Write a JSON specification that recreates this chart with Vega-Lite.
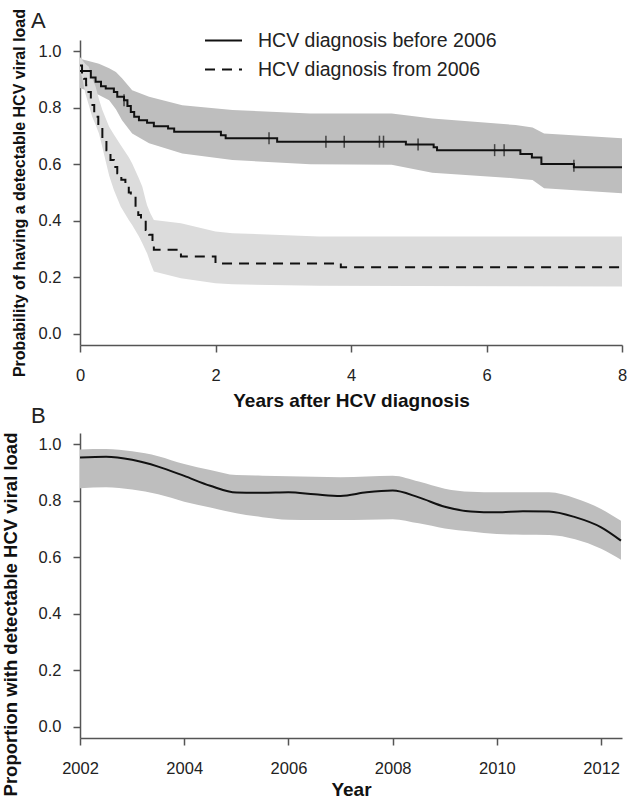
{
  "$schema": "https://vega.github.io/schema/vega-lite/v6.json",
  "padding": {"left": 1, "top": 8, "right": 5, "bottom": 0},
  "datasets": {
    "kmline": [
      {"group": "HCV diagnosis before 2006", "t": 0, "s": 0.93},
      {"group": "HCV diagnosis before 2006", "t": 0.16, "s": 0.907},
      {"group": "HCV diagnosis before 2006", "t": 0.23, "s": 0.892},
      {"group": "HCV diagnosis before 2006", "t": 0.31, "s": 0.876},
      {"group": "HCV diagnosis before 2006", "t": 0.38, "s": 0.868},
      {"group": "HCV diagnosis before 2006", "t": 0.5, "s": 0.856},
      {"group": "HCV diagnosis before 2006", "t": 0.55, "s": 0.839},
      {"group": "HCV diagnosis before 2006", "t": 0.65, "s": 0.827},
      {"group": "HCV diagnosis before 2006", "t": 0.7, "s": 0.806},
      {"group": "HCV diagnosis before 2006", "t": 0.75, "s": 0.785},
      {"group": "HCV diagnosis before 2006", "t": 0.8, "s": 0.768},
      {"group": "HCV diagnosis before 2006", "t": 0.87, "s": 0.756},
      {"group": "HCV diagnosis before 2006", "t": 0.99, "s": 0.747},
      {"group": "HCV diagnosis before 2006", "t": 1.09, "s": 0.735},
      {"group": "HCV diagnosis before 2006", "t": 1.3, "s": 0.727},
      {"group": "HCV diagnosis before 2006", "t": 1.39, "s": 0.715},
      {"group": "HCV diagnosis before 2006", "t": 2.08, "s": 0.703},
      {"group": "HCV diagnosis before 2006", "t": 2.15, "s": 0.692},
      {"group": "HCV diagnosis before 2006", "t": 2.91, "s": 0.68},
      {"group": "HCV diagnosis before 2006", "t": 4.81, "s": 0.67},
      {"group": "HCV diagnosis before 2006", "t": 5.22, "s": 0.66},
      {"group": "HCV diagnosis before 2006", "t": 5.27, "s": 0.65},
      {"group": "HCV diagnosis before 2006", "t": 6.5, "s": 0.636},
      {"group": "HCV diagnosis before 2006", "t": 6.67, "s": 0.624},
      {"group": "HCV diagnosis before 2006", "t": 6.81, "s": 0.601},
      {"group": "HCV diagnosis before 2006", "t": 7.29, "s": 0.589},
      {"group": "HCV diagnosis before 2006", "t": 8.0, "s": 0.589},
      {"group": "HCV diagnosis from 2006", "t": 0, "s": 0.95},
      {"group": "HCV diagnosis from 2006", "t": 0.03, "s": 0.92},
      {"group": "HCV diagnosis from 2006", "t": 0.06, "s": 0.903},
      {"group": "HCV diagnosis from 2006", "t": 0.09, "s": 0.88},
      {"group": "HCV diagnosis from 2006", "t": 0.11, "s": 0.856},
      {"group": "HCV diagnosis from 2006", "t": 0.16, "s": 0.81},
      {"group": "HCV diagnosis from 2006", "t": 0.21, "s": 0.768},
      {"group": "HCV diagnosis from 2006", "t": 0.27, "s": 0.73},
      {"group": "HCV diagnosis from 2006", "t": 0.33, "s": 0.686},
      {"group": "HCV diagnosis from 2006", "t": 0.39, "s": 0.65},
      {"group": "HCV diagnosis from 2006", "t": 0.45, "s": 0.615},
      {"group": "HCV diagnosis from 2006", "t": 0.5, "s": 0.59},
      {"group": "HCV diagnosis from 2006", "t": 0.55, "s": 0.568},
      {"group": "HCV diagnosis from 2006", "t": 0.61, "s": 0.545},
      {"group": "HCV diagnosis from 2006", "t": 0.67, "s": 0.527},
      {"group": "HCV diagnosis from 2006", "t": 0.72, "s": 0.5},
      {"group": "HCV diagnosis from 2006", "t": 0.75, "s": 0.485},
      {"group": "HCV diagnosis from 2006", "t": 0.82, "s": 0.438},
      {"group": "HCV diagnosis from 2006", "t": 0.86, "s": 0.42},
      {"group": "HCV diagnosis from 2006", "t": 0.9, "s": 0.403},
      {"group": "HCV diagnosis from 2006", "t": 0.97, "s": 0.367},
      {"group": "HCV diagnosis from 2006", "t": 1.02, "s": 0.35},
      {"group": "HCV diagnosis from 2006", "t": 1.07, "s": 0.332},
      {"group": "HCV diagnosis from 2006", "t": 1.09, "s": 0.297},
      {"group": "HCV diagnosis from 2006", "t": 1.49, "s": 0.273},
      {"group": "HCV diagnosis from 2006", "t": 2.0, "s": 0.249},
      {"group": "HCV diagnosis from 2006", "t": 3.85, "s": 0.235},
      {"group": "HCV diagnosis from 2006", "t": 8.0, "s": 0.235}
    ],
    "kmband": [
      {"group": "HCV diagnosis before 2006", "t": 0, "lo": 0.87, "hi": 0.974},
      {"group": "HCV diagnosis before 2006", "t": 0.28, "lo": 0.845, "hi": 0.956},
      {"group": "HCV diagnosis before 2006", "t": 0.43, "lo": 0.827, "hi": 0.94},
      {"group": "HCV diagnosis before 2006", "t": 0.53, "lo": 0.795, "hi": 0.927},
      {"group": "HCV diagnosis before 2006", "t": 0.62, "lo": 0.756, "hi": 0.905},
      {"group": "HCV diagnosis before 2006", "t": 0.77, "lo": 0.709, "hi": 0.862},
      {"group": "HCV diagnosis before 2006", "t": 1.02, "lo": 0.674, "hi": 0.839},
      {"group": "HCV diagnosis before 2006", "t": 1.51, "lo": 0.638, "hi": 0.809},
      {"group": "HCV diagnosis before 2006", "t": 2.25, "lo": 0.615, "hi": 0.792},
      {"group": "HCV diagnosis before 2006", "t": 3.4, "lo": 0.6, "hi": 0.78},
      {"group": "HCV diagnosis before 2006", "t": 4.6, "lo": 0.598, "hi": 0.78},
      {"group": "HCV diagnosis before 2006", "t": 5.2, "lo": 0.57, "hi": 0.762},
      {"group": "HCV diagnosis before 2006", "t": 6.43, "lo": 0.55, "hi": 0.739},
      {"group": "HCV diagnosis before 2006", "t": 6.68, "lo": 0.544, "hi": 0.73},
      {"group": "HCV diagnosis before 2006", "t": 6.85, "lo": 0.515, "hi": 0.709},
      {"group": "HCV diagnosis before 2006", "t": 8.0, "lo": 0.497, "hi": 0.692},
      {"group": "HCV diagnosis from 2006", "t": 0, "lo": 0.93, "hi": 0.98},
      {"group": "HCV diagnosis from 2006", "t": 0.03, "lo": 0.909, "hi": 0.97},
      {"group": "HCV diagnosis from 2006", "t": 0.08, "lo": 0.85, "hi": 0.955},
      {"group": "HCV diagnosis from 2006", "t": 0.13, "lo": 0.81, "hi": 0.945},
      {"group": "HCV diagnosis from 2006", "t": 0.18, "lo": 0.768, "hi": 0.905},
      {"group": "HCV diagnosis from 2006", "t": 0.23, "lo": 0.74, "hi": 0.875},
      {"group": "HCV diagnosis from 2006", "t": 0.28, "lo": 0.709, "hi": 0.83},
      {"group": "HCV diagnosis from 2006", "t": 0.33, "lo": 0.66, "hi": 0.792},
      {"group": "HCV diagnosis from 2006", "t": 0.43, "lo": 0.56, "hi": 0.733},
      {"group": "HCV diagnosis from 2006", "t": 0.5, "lo": 0.509, "hi": 0.705},
      {"group": "HCV diagnosis from 2006", "t": 0.6, "lo": 0.45, "hi": 0.668},
      {"group": "HCV diagnosis from 2006", "t": 0.72, "lo": 0.403, "hi": 0.625},
      {"group": "HCV diagnosis from 2006", "t": 0.77, "lo": 0.385, "hi": 0.603},
      {"group": "HCV diagnosis from 2006", "t": 0.87, "lo": 0.344, "hi": 0.55},
      {"group": "HCV diagnosis from 2006", "t": 0.92, "lo": 0.32, "hi": 0.52},
      {"group": "HCV diagnosis from 2006", "t": 0.97, "lo": 0.295, "hi": 0.473},
      {"group": "HCV diagnosis from 2006", "t": 0.99, "lo": 0.285, "hi": 0.455},
      {"group": "HCV diagnosis from 2006", "t": 1.04, "lo": 0.25, "hi": 0.426},
      {"group": "HCV diagnosis from 2006", "t": 1.09, "lo": 0.22, "hi": 0.403},
      {"group": "HCV diagnosis from 2006", "t": 1.49, "lo": 0.196, "hi": 0.391},
      {"group": "HCV diagnosis from 2006", "t": 2.0, "lo": 0.179, "hi": 0.362},
      {"group": "HCV diagnosis from 2006", "t": 2.25, "lo": 0.175, "hi": 0.356},
      {"group": "HCV diagnosis from 2006", "t": 3.53, "lo": 0.17, "hi": 0.344},
      {"group": "HCV diagnosis from 2006", "t": 8.0, "lo": 0.167, "hi": 0.344}
    ],
    "censor": [
      {"t": 0.65, "s": 0.827},
      {"t": 2.79, "s": 0.692},
      {"t": 3.63, "s": 0.68},
      {"t": 3.9, "s": 0.68},
      {"t": 4.42, "s": 0.68},
      {"t": 4.48, "s": 0.68},
      {"t": 4.99, "s": 0.67},
      {"t": 6.12, "s": 0.65},
      {"t": 6.26, "s": 0.65},
      {"t": 7.29, "s": 0.595}
    ],
    "trend": [
      {"year": 2002.0, "est": 0.953, "lo": 0.844, "hi": 0.982},
      {"year": 2002.5, "est": 0.956, "lo": 0.848, "hi": 0.983},
      {"year": 2003.0, "est": 0.945, "lo": 0.84, "hi": 0.975},
      {"year": 2003.5, "est": 0.921, "lo": 0.823, "hi": 0.958},
      {"year": 2004.0, "est": 0.888, "lo": 0.797, "hi": 0.93},
      {"year": 2004.5, "est": 0.853, "lo": 0.776, "hi": 0.909},
      {"year": 2005.0, "est": 0.829, "lo": 0.756, "hi": 0.891},
      {"year": 2005.5, "est": 0.828, "lo": 0.742, "hi": 0.889},
      {"year": 2006.0, "est": 0.83, "lo": 0.733, "hi": 0.887},
      {"year": 2006.5, "est": 0.823, "lo": 0.732, "hi": 0.885},
      {"year": 2007.0, "est": 0.817, "lo": 0.732, "hi": 0.883},
      {"year": 2007.5, "est": 0.83, "lo": 0.733, "hi": 0.886},
      {"year": 2008.0, "est": 0.836, "lo": 0.735, "hi": 0.889},
      {"year": 2008.5, "est": 0.812, "lo": 0.72, "hi": 0.868},
      {"year": 2009.0, "est": 0.779, "lo": 0.702, "hi": 0.843},
      {"year": 2009.5, "est": 0.762, "lo": 0.691, "hi": 0.832},
      {"year": 2010.0, "est": 0.759, "lo": 0.682, "hi": 0.83},
      {"year": 2010.5, "est": 0.763, "lo": 0.68, "hi": 0.83},
      {"year": 2011.0, "est": 0.762, "lo": 0.679, "hi": 0.83},
      {"year": 2011.5, "est": 0.742, "lo": 0.664, "hi": 0.809},
      {"year": 2012.0, "est": 0.706, "lo": 0.63, "hi": 0.771},
      {"year": 2012.38, "est": 0.659, "lo": 0.591, "hi": 0.729}
    ]
  },
  "spacing": 88,
  "bounds": "flush",
  "vconcat": [
    {
      "width": 542,
      "height": 305,
      "title": {"text": "A", "dx": -49, "offset": -25},
      "layer": [
        {
          "data": {"name": "kmband"},
          "transform": [{"filter": "datum.group === 'HCV diagnosis before 2006'"}],
          "mark": {"type": "area", "interpolate": "linear", "color": "#bebebe", "opacity": 1},
          "encoding": {
            "x": {"field": "t", "type": "quantitative", "scale": {"domain": [0, 8], "nice": false}, "axis": {"values": [0, 2, 4, 6, 8], "format": "d", "title": "Years after HCV diagnosis"}},
            "y": {"field": "lo", "type": "quantitative", "scale": {"domain": [-0.04, 1.04], "nice": false, "zero": false}, "axis": {"values": [0, 0.2, 0.4, 0.6, 0.8, 1.0], "format": ".1f", "title": "Probability of having a detectable HCV viral load"}},
            "y2": {"field": "hi"}
          }
        },
        {
          "data": {"name": "kmband"},
          "transform": [{"filter": "datum.group === 'HCV diagnosis from 2006'"}],
          "mark": {"type": "area", "interpolate": "linear", "color": "#dcdcdc", "opacity": 1},
          "encoding": {
            "x": {"field": "t", "type": "quantitative"},
            "y": {"field": "lo", "type": "quantitative"},
            "y2": {"field": "hi"}
          }
        },
        {
          "data": {"name": "kmline"},
          "mark": {"type": "line", "interpolate": "step-after", "color": "#111", "strokeWidth": 2},
          "encoding": {
            "x": {"field": "t", "type": "quantitative"},
            "y": {"field": "s", "type": "quantitative"},
            "strokeDash": {
              "field": "group", "type": "nominal",
              "scale": {"domain": ["HCV diagnosis before 2006", "HCV diagnosis from 2006"], "range": [[1, 0], [10, 7]]},
              "legend": {"title": null, "orient": "none", "legendX": 124, "legendY": -19, "symbolType": "stroke", "symbolSize": 1369, "symbolStrokeColor": "#111", "symbolStrokeWidth": 2, "labelFontSize": 19.5, "labelFont": "Liberation Sans", "labelColor": "#222", "labelOffset": 15, "rowPadding": -7, "labelLimit": 400}
            }
          }
        },
        {
          "data": {"name": "censor"},
          "mark": {"type": "tick", "orient": "vertical", "color": "#111", "size": 12, "thickness": 1.5},
          "encoding": {
            "x": {"field": "t", "type": "quantitative"},
            "y": {"field": "s", "type": "quantitative"}
          }
        }
      ]
    },
    {
      "width": 542,
      "height": 305,
      "title": {"text": "B", "dx": -49, "offset": 4.5},
      "data": {"name": "trend"},
      "layer": [
        {
          "mark": {"type": "area", "interpolate": "monotone", "color": "#bebebe", "opacity": 1},
          "encoding": {
            "x": {"field": "year", "type": "quantitative", "scale": {"domain": [2002, 2012.4], "nice": false, "zero": false}, "axis": {"values": [2002, 2004, 2006, 2008, 2010, 2012], "format": "d", "title": "Year", "titlePadding": 4}},
            "y": {"field": "lo", "type": "quantitative", "scale": {"domain": [-0.04, 1.04], "nice": false, "zero": false}, "axis": {"values": [0, 0.2, 0.4, 0.6, 0.8, 1.0], "format": ".1f", "title": "Proportion with detectable HCV viral load", "titleFontSize": 18.5, "titlePadding": 18, "titleY": 181}},
            "y2": {"field": "hi"}
          }
        },
        {
          "mark": {"type": "line", "interpolate": "monotone", "color": "#111", "strokeWidth": 2},
          "encoding": {
            "x": {"field": "year", "type": "quantitative"},
            "y": {"field": "est", "type": "quantitative"}
          }
        }
      ]
    }
  ],
  "config": {
    "view": {"stroke": null},
    "font": "Liberation Sans",
    "title": {"font": "Liberation Sans", "fontSize": 22, "fontWeight": "normal", "anchor": "start", "color": "#222", "frame": "group"},
    "axis": {
      "grid": false,
      "domainColor": "#555",
      "domainWidth": 1.5,
      "tickColor": "#555",
      "tickWidth": 1.5,
      "tickSize": 7,
      "labelFont": "Liberation Sans",
      "labelFontSize": 16.5,
      "labelColor": "#222",
      "titleFont": "Liberation Sans",
      "titleColor": "#111",
      "titleFontWeight": "bold"
    },
    "axisX": {"labelPadding": 15, "titleFontSize": 19, "titlePadding": 8, "labelFlush": false},
    "axisY": {"labelPadding": 12, "titleFontSize": 16, "titlePadding": 11}
  }
}
